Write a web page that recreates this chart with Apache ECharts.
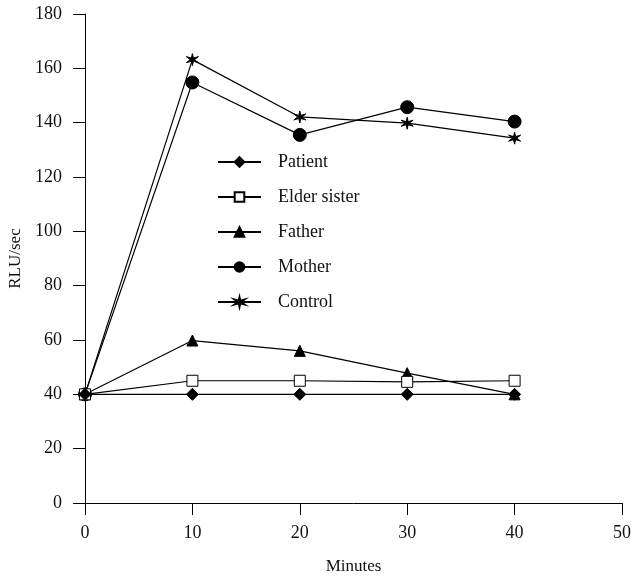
<!DOCTYPE html>
<html>
<head>
<meta charset="utf-8">
<script src="https://cdn.jsdelivr.net/npm/echarts@6/dist/echarts.min.js"></script>
<style>
  html, body { margin: 0; padding: 0; background: #fff; }
  #chart { width: 631px; height: 580px; }
</style>
</head>
<body>
<div id="chart"></div>
<script>
// time points (minutes)
var minutes = [0, 10, 20, 30, 40];
// RLU/sec values
var patient = [40, 40, 40, 40, 40];
var elderSister = [40, 45, 45, 44.6, 45];
var father = [40, 59.8, 56, 47.8, 40];
var mother = [40, 154.8, 135.5, 145.7, 140.4];
var control = [40, 163.2, 142.1, 139.8, 134.3];

var seriesNames = ['Patient', 'Elder sister', 'Father', 'Mother', 'Control'];

// six pointed star for Control
var star = 'path://M10 0L11.5 7.4L18.66 5L13 10L18.66 15L11.5 12.6L10 20L8.5 12.6L1.34 15L7 10L1.34 5L8.5 7.4Z';

function pairs(vals) {
    return minutes.map(function (m, i) { return [m, vals[i]]; });
}

function mkSeries(name, vals, symbol, size, fill, z) {
    return {
        name: name,
        type: 'line',
        data: pairs(vals),
        symbol: symbol,
        symbolSize: size,
        showAllSymbol: true,
        z: z,
        lineStyle: { color: '#000', width: 1.2 },
        itemStyle: { color: fill, borderColor: '#000', borderWidth: 1 },
        emphasis: { disabled: true },
        animation: false
    };
}

var font = 'Liberation Serif';

var option = {
    backgroundColor: '#fff',
    animation: false,
    grid: { left: 85, right: 9, top: 14, bottom: 77, outerBoundsMode: 'none', containLabel: false },
    legend: {
        orient: 'vertical',
        left: 217,
        top: 153,
        padding: 0,
        itemWidth: 43,
        itemHeight: 12,
        itemGap: 17,
        data: seriesNames,
        textStyle: { fontFamily: font, fontSize: 18, color: '#111', padding: [0, 0, 0, 12] }
    },
    xAxis: {
        type: 'value',
        min: 0, max: 50, interval: 10,
        name: 'Minutes',
        nameLocation: 'middle',
        nameGap: 55,
        nameTextStyle: { fontFamily: font, fontSize: 17, color: '#111' },
        axisLine: { show: true, onZero: false, lineStyle: { color: '#000', width: 1 } },
        axisTick: { show: true, inside: false, length: 12, lineStyle: { color: '#000' } },
        axisLabel: { fontFamily: font, fontSize: 18, color: '#111', margin: 21 },
        splitLine: { show: false }
    },
    yAxis: {
        type: 'value',
        min: 0, max: 180, interval: 20,
        name: 'RLU/sec',
        nameLocation: 'middle',
        nameGap: 57,
        nameTextStyle: { fontFamily: font, fontSize: 17, color: '#111' },
        axisLine: { show: true, lineStyle: { color: '#000', width: 1 } },
        axisTick: { show: true, inside: false, length: 12, lineStyle: { color: '#000' } },
        axisLabel: { fontFamily: font, fontSize: 18, color: '#111', margin: 23 },
        splitLine: { show: false }
    },
    series: [
        mkSeries('Patient', patient, 'diamond', 12, '#000', 5),
        mkSeries('Elder sister', elderSister, 'rect', 11, '#fff', 4),
        mkSeries('Father', father, 'triangle', 11, '#000', 3),
        mkSeries('Mother', mother, 'circle', 13, '#000', 2),
        mkSeries('Control', control, star, 12, '#000', 1)
    ]
};

var myChart = echarts.init(document.getElementById('chart'), null, { renderer: 'canvas' });
myChart.setOption(option);
</script>
</body>
</html>
